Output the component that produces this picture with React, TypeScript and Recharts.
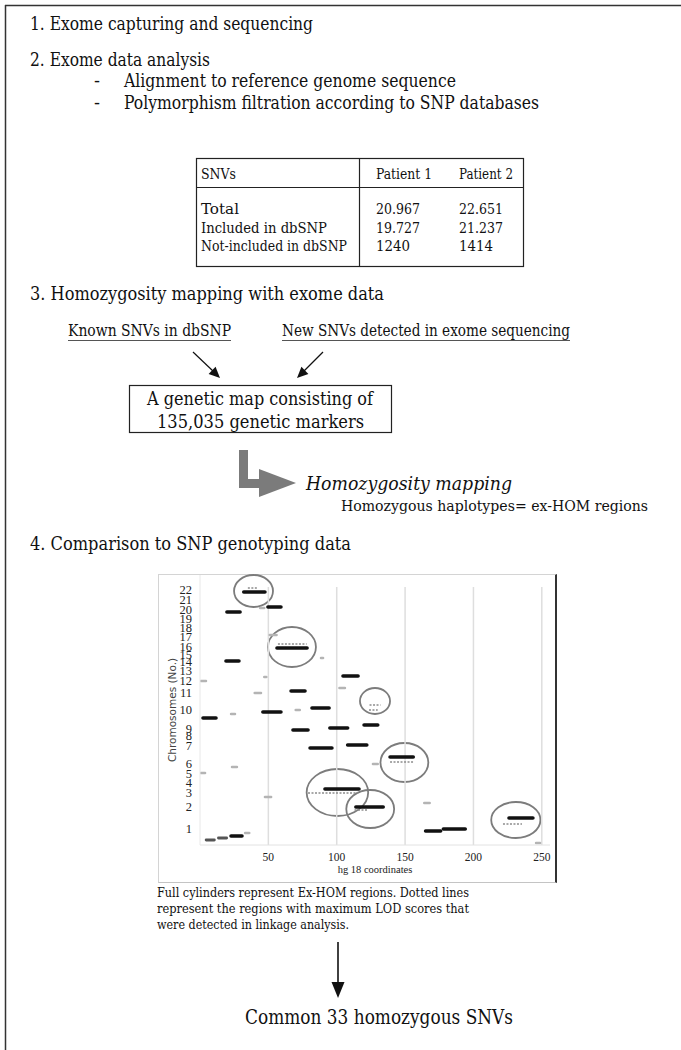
import React from 'react';
import { ComposedChart, Line, XAxis, YAxis, ReferenceLine, ReferenceArea } from 'recharts';

// chromosome labels and where they sit on the (non-linear) vertical track
const chromosomeLabels = ['1', '2', '3', '4', '5', '6', '7', '8', '9', '10', '11', '12', '13', '14', '15', '16', '17', '18', '19', '20', '21', '22'];
const chromosomeTrack = [17, 39, 53, 63, 72, 82, 100, 110, 117, 136, 153, 165, 175, 184, 191, 199, 209, 218, 227, 236, 246, 256];
const coordinateTicks = [50, 100, 150, 200, 250];

// [track, start, end] in hg18 Mb
const exHomRegions = [
  [253, 32, 47.5],
  [233, 19.7, 29.3],
  [238, 49.7, 59.2],
  [197, 56.3, 78.3],
  [184, 19, 28.5],
  [169, 104.6, 115.6],
  [154, 66.6, 76.8],
  [137, 81.9, 94.4],
  [133, 46, 59.2],
  [127, 2.2, 11.7],
  [115, 68, 79],
  [117, 95, 108],
  [120, 120, 130],
  [97, 80.5, 96.5],
  [100, 108, 122],
  [88, 139, 156],
  [56, 91.4, 116.3],
  [38, 114, 134],
  [14, 165, 176],
  [16, 178, 194],
  [27, 226, 243.5],
  [9, 22.7, 30.7],
];

// weaker calls near the origin
const weakRegions = [
  [5, 4.5, 10.5],
  [7, 13.5, 19.5],
];

// max LOD regions (dotted)
const lodRegions = [
  [257, 35, 42],
  [201, 57, 78],
  [140, 124, 132],
  [135, 123.6, 130],
  [83, 139, 156],
  [52, 79, 115.6],
  [35, 113, 123],
  [21, 221.6, 235.5],
];

// small faint calls
const minorCalls = [
  [237, 44, 47],
  [210, 51, 56],
  [187, 88.5, 90],
  [164, 0.5, 4.4],
  [168, 47, 48.5],
  [157, 102, 106],
  [152, 40, 44.6],
  [135, 70, 73],
  [131, 22.7, 25.6],
  [81, 126.5, 130],
  [78, 23.4, 27],
  [72, 0.5, 3.7],
  [48, 47.5, 52],
  [42, 164, 168],
  [2, 245.8, 248.7],
  [12, 33, 36],
];

// [x1, x2, y1, y2] circled overlaps
const circledRegions = [
  [24.9, 53.4, 238, 270],
  [49.7, 84.8, 178, 218],
  [117, 139, 131, 157],
  [132, 167, 63, 102],
  [78, 123, 29, 76],
  [107, 142, 17, 55],
  [213, 249, 7, 43],
];

const serif = "'DejaVu Serif Condensed', 'DejaVu Serif', serif";
const chartSerif = "'Liberation Serif', serif";

function T({ x, y, w, size, children, italic }: any) {
  return (
    <text
      x={x}
      y={y}
      fontSize={size}
      fontFamily={serif}
      fontStyle={italic ? 'italic' : 'normal'}
      fill="#111"
      textLength={w}
      lengthAdjust="spacingAndGlyphs"
    >
      {children}
    </text>
  );
}

const YTick = ({ x, y, payload, index }: any) => (
  <text x={x} y={y} dy="0.36em" textAnchor="end" fontSize={12.5} fontFamily={chartSerif} fill="#222">
    {chromosomeLabels[chromosomeTrack.indexOf(payload.value)] ?? chromosomeLabels[index]}
  </text>
);

function segmentLines(rows: number[][], prefix: string, style: any) {
  return rows.map(([t, a, b], i) => (
    <Line
      key={`${prefix}${i}`}
      data={[{ x: a, y: t }, { x: b, y: t }]}
      dataKey="y"
      dot={false}
      activeDot={false}
      isAnimationActive={false}
      {...style}
    />
  ));
}

function HomozygosityChart() {
  return (
    <ComposedChart width={399} height={309} margin={{ top: 1, right: 7, bottom: 0, left: 0 }}>
      <XAxis
        type="number"
        dataKey="x"
        domain={[0, 256]}
        ticks={coordinateTicks}
        interval={0}
        allowDataOverflow
        tickLine={false}
        axisLine={{ stroke: '#e2e2e2' }}
        height={38}
        tick={{ fontSize: 11.5, fontFamily: chartSerif, fill: '#222' }}
        label={{ value: 'hg 18 coordinates', position: 'insideBottom', offset: 10, style: { fontSize: 10.5, fontFamily: chartSerif, fill: '#222' } }}
      />
      <YAxis
        type="number"
        domain={[0, 270]}
        ticks={chromosomeTrack}
        interval={0}
        allowDataOverflow
        width={42}
        tickLine={false}
        axisLine={{ stroke: '#e8e8e8' }}
        tick={<YTick />}
        label={{
          value: 'Chromosomes (No.)',
          angle: -90,
          position: 'insideLeft',
          offset: 14,
          style: { textAnchor: 'middle', fontSize: 10.5, fontFamily: "'DejaVu Sans', sans-serif", fill: '#444' },
        }}
      />
      {coordinateTicks.map((v) => (
        <ReferenceLine key={`g${v}`} segment={[{ x: v, y: 0 }, { x: v, y: 258 }]} stroke="#dedede" strokeWidth={1.5} />
      ))}
      {circledRegions.map(([a, b, c, d], i) => (
        <ReferenceArea
          key={`c${i}`}
          x1={a}
          x2={b}
          y1={c}
          y2={d}
          ifOverflow="visible"
          shape={(p: any) => (
            <ellipse
              cx={p.x + p.width / 2}
              cy={p.y + p.height / 2}
              rx={Math.abs(p.width) / 2}
              ry={Math.abs(p.height) / 2}
              fill="none"
              stroke="#7c7c7c"
              strokeWidth={1.8}
            />
          )}
        />
      ))}
      {segmentLines(minorCalls, 'm', { stroke: '#b4b4b4', strokeWidth: 2.5, strokeLinecap: 'round' })}
      {segmentLines(lodRegions, 'l', { stroke: '#8c8c8c', strokeWidth: 1.6, strokeDasharray: '2 1.5' })}
      {segmentLines(weakRegions, 'w', { stroke: '#555', strokeWidth: 2.8, strokeLinecap: 'round' })}
      {segmentLines(exHomRegions, 'h', { stroke: '#111', strokeWidth: 3.6, strokeLinecap: 'round' })}
    </ComposedChart>
  );
}

const tableRows = [
  ['Total', '20.967', '22.651'],
  ['Included in dbSNP', '19.727', '21.237'],
  ['Not-included in dbSNP', '1240', '1414'],
];
const tableRowWidths = [38, 126, 146];
const tableValueWidths = [[44, 44], [44, 44], [34, 34]];

function Arrowhead({ x, y, angle, len = 11, half = 5 }: any) {
  const r = (angle * Math.PI) / 180;
  const bx = x - len * Math.cos(r);
  const by = y - len * Math.sin(r);
  const px = -Math.sin(r) * half;
  const py = Math.cos(r) * half;
  return <polygon points={`${x},${y} ${bx + px},${by + py} ${bx - px},${by - py}`} fill="#111" />;
}

export default function App() {
  return (
    <div style={{ position: 'absolute', left: 0, top: 0, width: 681, height: 1050, background: '#fff', overflow: 'hidden' }}>
      <svg width={681} height={1050} style={{ position: 'absolute', left: 0, top: 0 }}>
        {/* outer frame */}
        <line x1={5.5} y1={5} x2={5.5} y2={1050} stroke="#333" strokeWidth={1.5} />
        <line x1={5} y1={5.5} x2={681} y2={5.5} stroke="#333" strokeWidth={1.5} />

        <T x={30} y={30} w={283} size={19}>1. Exome capturing and sequencing</T>
        <T x={30} y={66} w={180} size={19}>2. Exome data analysis</T>
        <T x={94} y={87} w={6} size={18}>-</T>
        <T x={124} y={87} w={332} size={18}>Alignment to reference genome sequence</T>
        <T x={94} y={109} w={6} size={18}>-</T>
        <T x={124} y={109} w={415} size={18}>Polymorphism filtration according to SNP databases</T>

        {/* table */}
        <rect x={196.5} y={158.5} width={327} height={108} fill="none" stroke="#222" strokeWidth={1.2} />
        <line x1={196} y1={187.5} x2={523} y2={187.5} stroke="#222" strokeWidth={1.2} />
        <line x1={359.5} y1={158} x2={359.5} y2={267} stroke="#222" strokeWidth={1.2} />
        <T x={201} y={179} w={35} size={15}>SNVs</T>
        <T x={376} y={179} w={56} size={15}>Patient 1</T>
        <T x={459} y={179} w={54} size={15}>Patient 2</T>
        {tableRows.map((r, i) => (
          <g key={r[0]}>
            <T x={201} y={214 + i * 18.5} w={tableRowWidths[i]} size={15}>{r[0]}</T>
            <T x={376} y={214 + i * 18.5} w={tableValueWidths[i][0]} size={15}>{r[1]}</T>
            <T x={459} y={214 + i * 18.5} w={tableValueWidths[i][1]} size={15}>{r[2]}</T>
          </g>
        ))}

        <T x={30} y={300} w={354} size={19}>3. Homozygosity mapping with exome data</T>
        <T x={68} y={336} w={163} size={16}>Known SNVs in dbSNP</T>
        <T x={282} y={336} w={288} size={16}>New SNVs detected in exome sequencing</T>
        <line x1={68} y1={340.5} x2={231} y2={340.5} stroke="#555" strokeWidth={1} />
        <line x1={282} y1={340.5} x2={570} y2={340.5} stroke="#555" strokeWidth={1} />

        <line x1={193} y1={352} x2={214} y2={372} stroke="#111" strokeWidth={1.2} />
        <Arrowhead x={220} y={378} angle={44} />
        <line x1={323} y1={352} x2={303} y2={372} stroke="#111" strokeWidth={1.2} />
        <Arrowhead x={297} y={378} angle={136} />

        <rect x={129.5} y={385.5} width={262} height={47} fill="none" stroke="#222" strokeWidth={1.2} />
        <T x={147} y={405} w={226} size={19}>A genetic map consisting of</T>
        <T x={157} y={428} w={207} size={19}>135,035 genetic markers</T>

        {/* gray L arrow */}
        <rect x={239} y={450} width={9} height={38} fill="#7b7b7b" />
        <rect x={239} y={479} width={23} height={9} fill="#7b7b7b" />
        <polygon points="259,469 259,497 296,483" fill="#7b7b7b" />
        <T x={306} y={490} w={206} size={19} italic>Homozygosity  mapping</T>
        <T x={341} y={511} w={307} size={15}>Homozygous  haplotypes= ex-HOM regions</T>

        <T x={30} y={550} w={321} size={19}>4. Comparison to SNP genotyping data</T>

        <T x={157} y={897} w={312} size={13}>Full cylinders represent Ex-HOM regions. Dotted lines</T>
        <T x={157} y={913} w={312} size={13}>represent the regions with maximum LOD scores that</T>
        <T x={157} y={929} w={192} size={13}>were detected in linkage analysis.</T>

        <line x1={338} y1={942} x2={338} y2={985} stroke="#111" strokeWidth={1.6} />
        <Arrowhead x={338} y={998} angle={90} len={16} half={6.5} />
        <T x={245} y={1024} w={268} size={20}>Common 33  homozygous SNVs</T>
      </svg>

      <div
        style={{
          position: 'absolute',
          left: 158,
          top: 574,
          width: 399,
          height: 309,
          boxSizing: 'border-box',
          borderTop: '1.5px solid #d4d4d4',
          borderLeft: '1.5px solid #d4d4d4',
          borderBottom: '1.5px solid #c4c4c4',
          borderRight: '2px solid #333',
        }}
      />
      <div style={{ position: 'absolute', left: 158, top: 574 }}>
        <HomozygosityChart />
      </div>
    </div>
  );
}
